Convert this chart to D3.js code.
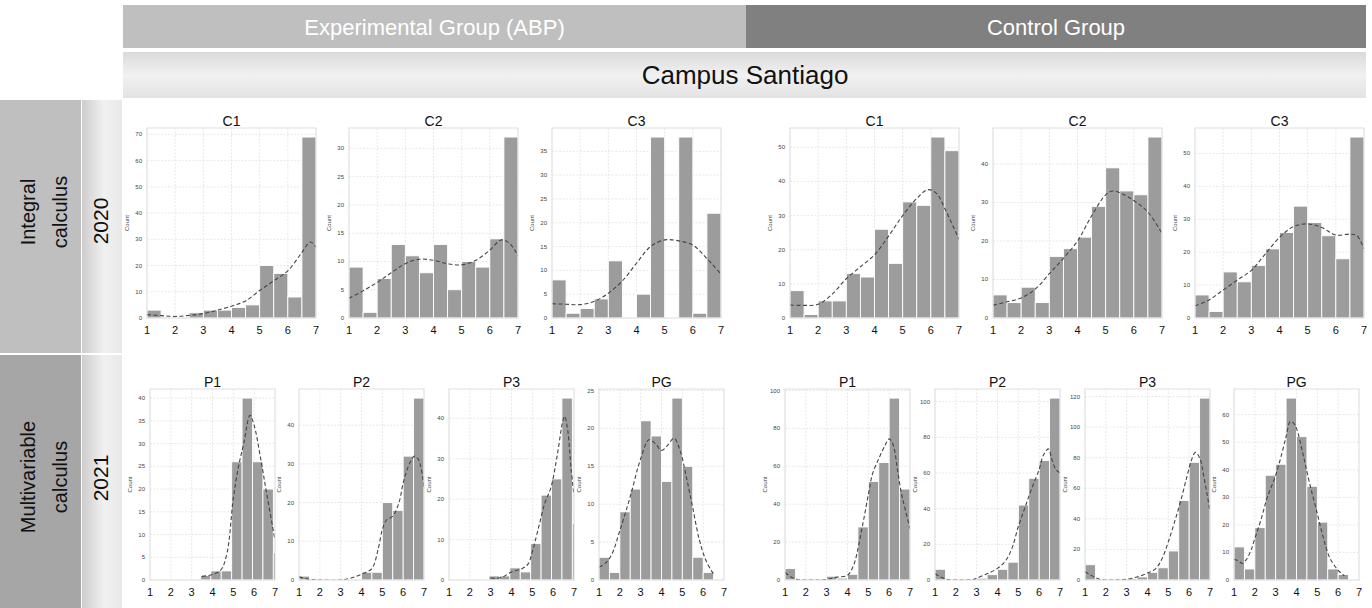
<!DOCTYPE html>
<html>
<head>
<meta charset="utf-8">
<script src="https://cdn.jsdelivr.net/npm/d3@7.9.0/dist/d3.min.js"></script>
<style>
  body { margin: 0; background: #fff; }
  svg { display: block; }
</style>
</head>
<body>
<svg id="chart" width="1372" height="608"></svg>
<script>
// ---- data ----
const groupLabels = ["Experimental Group (ABP)", "Control Group"];
const campusLabel = "Campus Santiago";
const rowLabels = [["Integral", "calculus"], ["Multivariable", "calculus"]];
const yearLabels = ["2020", "2021"];
const topTitles = ["C1", "C2", "C3", "C1", "C2", "C3"];
const bottomTitles = ["P1", "P2", "P3", "PG", "P1", "P2", "P3", "PG"];
const xTicks = [1, 2, 3, 4, 5, 6, 7];

// histogram counts, bins of 0.5 starting at binStart
const expC1 = [3, 0, 0, 2, 3, 3, 4, 5, 20, 17, 8, 69];
const expC2 = [9, 1, 7, 13, 11, 8, 13, 5, 10, 9, 14, 32];
const expC3 = [8, 1, 2, 4, 12, 0, 5, 38, 0, 38, 1, 22];
const ctrlC1 = [8, 1, 5, 5, 13, 12, 26, 16, 34, 33, 53, 49];
const ctrlC2 = [6, 4, 8, 4, 16, 18, 21, 29, 39, 33, 32, 47];
const ctrlC3 = [7, 2, 14, 11, 16, 21, 26, 34, 29, 25, 18, 55];

const expP1 = [0, 0, 0, 0, 0, 1, 2, 2, 26, 40, 26, 20, 6];
const expP2 = [1, 0, 0, 0, 0, 0, 2, 2, 20, 18, 32, 47];
const expP3 = [0, 0, 0, 0, 1, 1, 3, 2, 9, 21, 25, 45, 14];
const expPG = [3, 1, 9, 12, 21, 19, 13, 24, 15, 3, 1, 0];
const ctrlP1 = [6, 0, 0, 0, 2, 1, 3, 28, 52, 62, 96, 48];
const ctrlP2 = [6, 0, 0, 0, 1, 3, 6, 10, 42, 57, 67, 102];
const ctrlP3 = [10, 0, 0, 0, 1, 2, 5, 8, 19, 52, 77, 119];
const ctrlPG = [12, 4, 19, 38, 42, 66, 52, 34, 21, 4, 2, 0];

const topBinStart = [1, 1, 1, 1, 1, 1];
const bottomBinStart = [0.92, 1, 0.92, 1, 1, 1, 1, 1];
const topTickStep = [10, 5, 5, 10, 10, 10];
const bottomTickStep = [5, 10, 10, 5, 20, 20, 20, 10];

// kde curves [x, count]
const kdeExpC1 = [[1, 1.3], [1.5, 0.9], [2, 0.6], [2.5, 1], [3, 1.7], [3.5, 3], [4, 4.5], [4.5, 6.5], [5, 10.5], [5.5, 14.2], [6, 18], [6.5, 25], [6.8, 29], [7, 27]];
const kdeExpC2 = [[1, 3.5], [1.5, 4.8], [2, 6.3], [2.5, 8], [3, 9.6], [3.5, 10.4], [4, 10.2], [4.5, 9.6], [5, 9.4], [5.5, 10.2], [6, 12], [6.4, 13.8], [6.7, 13.2], [7, 11]];
const kdeExpC3 = [[1, 3], [1.5, 2.9], [2, 2.8], [2.5, 3.5], [3, 5.2], [3.5, 7.8], [4, 11.5], [4.5, 15], [5, 16.4], [5.5, 16.2], [6, 15.3], [6.5, 12.5], [7, 9.2]];
const kdeCtrlC1 = [[1, 3.8], [1.5, 3.7], [2, 4], [2.5, 7], [3, 11.5], [3.5, 15], [4, 18.5], [4.5, 24], [5, 30], [5.5, 35], [5.9, 37.6], [6.2, 36.5], [6.5, 32], [7, 23]];
const kdeCtrlC2 = [[1, 3.3], [1.5, 4.2], [2, 5.2], [2.5, 7.5], [3, 11.5], [3.5, 15.5], [4, 20], [4.5, 26.5], [5, 32], [5.25, 33], [5.6, 32.2], [6, 30.5], [6.5, 27.5], [7, 22]];
const kdeCtrlC3 = [[1, 3.7], [1.5, 5.5], [2, 8.5], [2.5, 11.5], [3, 14.5], [3.5, 19.5], [4, 24.5], [4.5, 27.8], [5, 28.6], [5.5, 27.5], [6, 25.2], [6.5, 25.5], [6.75, 25], [7, 21]];

const kdeExpP1 = [[3.5, 0.8], [4, 1.2], [4.4, 2.2], [4.7, 6], [5, 18], [5.25, 25], [5.5, 30], [5.8, 36.2], [6, 34], [6.3, 27], [6.6, 19], [7, 8.8]];
const kdeExpP2 = [[1, 0.8], [1.5, 0.2], [2, 0], [3, 0], [3.5, 0.5], [4, 1.5], [4.5, 3], [4.8, 8], [5, 13], [5.2, 15.5], [5.5, 16.5], [5.8, 20], [6, 25], [6.3, 30], [6.55, 32], [6.75, 31], [7, 24]];
const kdeExpP3 = [[3, 0.5], [3.3, 0.4], [3.6, 0.8], [4, 2], [4.5, 2.8], [4.8, 4], [5, 7], [5.3, 13], [5.6, 19], [5.9, 23], [6.2, 31], [6.45, 39], [6.55, 40.5], [6.7, 37], [6.85, 28], [7, 21]];
const kdeExpPG = [[1, 1.7], [1.3, 2.2], [1.6, 3.3], [2, 6.5], [2.5, 11], [3, 16], [3.4, 18.5], [3.7, 18], [4, 17.1], [4.3, 17.8], [4.6, 18.7], [4.9, 17], [5.2, 13.5], [5.5, 9.5], [5.8, 5.5], [6.1, 2.8], [6.4, 1.2], [6.5, 0.8]];
const kdeCtrlP1 = [[1, 4], [1.3, 1.5], [1.6, 0.3], [2, 0], [3, 0.3], [3.5, 1.5], [4, 2.5], [4.3, 8], [4.6, 22], [5, 45], [5.2, 56], [5.5, 64], [5.8, 71], [6, 74.5], [6.2, 71], [6.4, 58], [6.6, 45], [6.8, 36], [7, 27]];
const kdeCtrlP2 = [[1, 3.5], [1.3, 1.5], [1.6, 0.3], [2, 0], [2.8, 0.2], [3, 1], [3.5, 3.5], [4, 6.5], [4.4, 11], [4.7, 18], [5, 30], [5.3, 40], [5.6, 50], [6, 62], [6.2, 70], [6.45, 73.5], [6.6, 68], [6.8, 62], [7, 60]];
const kdeCtrlP3 = [[1, 5.5], [1.3, 3], [1.7, 0.5], [2, 0], [2.5, 0], [3, 0.5], [3.5, 2], [4, 4.5], [4.4, 7.5], [4.7, 14], [5, 25], [5.3, 38], [5.6, 52], [5.9, 68], [6.1, 78], [6.3, 83.5], [6.5, 80], [6.7, 68], [7, 45]];
const kdeCtrlPG = [[1, 7.5], [1.2, 7], [1.4, 6], [1.6, 7.5], [1.8, 10.5], [2, 15], [2.3, 22], [2.6, 30], [3, 38], [3.3, 46], [3.5, 52], [3.7, 57.5], [3.85, 57], [4, 55], [4.3, 46], [4.6, 36], [5, 24], [5.3, 15], [5.6, 8], [6, 3.5], [6.3, 1.5]];

const topCounts = [expC1, expC2, expC3, ctrlC1, ctrlC2, ctrlC3];
const topKde = [kdeExpC1, kdeExpC2, kdeExpC3, kdeCtrlC1, kdeCtrlC2, kdeCtrlC3];
const bottomCounts = [expP1, expP2, expP3, expPG, ctrlP1, ctrlP2, ctrlP3, ctrlPG];
const bottomKde = [kdeExpP1, kdeExpP2, kdeExpP3, kdeExpPG, kdeCtrlP1, kdeCtrlP2, kdeCtrlP3, kdeCtrlPG];

// ---- layout ----
const svg = d3.select("#chart");
const defs = svg.append("defs");

function gradient(id, x2, y2, stops) {
  const gr = defs.append("linearGradient").attr("id", id)
    .attr("x1", 0).attr("y1", 0).attr("x2", x2).attr("y2", y2);
  stops.forEach(([o, c]) => gr.append("stop").attr("offset", o).attr("stop-color", c));
}
gradient("campusGrad", 0, 1, [[0, "#dadada"], [0.5, "#f1f1f1"], [1, "#e3e3e3"]]);
gradient("yearGrad", 1, 0, [[0, "#cdcdcd"], [0.55, "#f1f1f1"], [1, "#e8e8e8"]]);

const headerFont = "'Liberation Sans', Arial, sans-serif";

// group header bands
const groupBands = [[123, 746, "#bfbfbf"], [746, 1366, "#808080"]];
groupBands.forEach(([x0, x1, c], i) => {
  svg.append("rect").attr("x", x0).attr("y", 5).attr("width", x1 - x0).attr("height", 43).attr("fill", c);
  svg.append("text").attr("x", (x0 + x1) / 2).attr("y", 35)
    .attr("text-anchor", "middle").attr("fill", "#fff")
    .style("font-family", headerFont).style("font-size", "22px")
    .text(groupLabels[i]);
});

svg.append("rect").attr("x", 123).attr("y", 52).attr("width", 1243).attr("height", 46).attr("fill", "url(#campusGrad)");
svg.append("text").attr("x", 745).attr("y", 84).attr("text-anchor", "middle").attr("fill", "#111")
  .style("font-family", headerFont).style("font-size", "26px").text(campusLabel);

// row header cells
const rowBands = [[100, 353, "#bfbfbf", 212, 221], [355, 608, "#a6a6a6", 477, 478]];
rowBands.forEach(([y0, y1, c, cy, ycy], i) => {
  svg.append("rect").attr("x", 0).attr("y", y0).attr("width", 81).attr("height", y1 - y0).attr("fill", c);
  svg.append("rect").attr("x", 82).attr("y", y0).attr("width", 40).attr("height", y1 - y0).attr("fill", "url(#yearGrad)");
  rowLabels[i].forEach((line, j) => {
    svg.append("text").attr("transform", `translate(${35 + j * 32},${cy}) rotate(-90)`)
      .attr("text-anchor", "middle").attr("fill", "#111")
      .style("font-family", headerFont).style("font-size", "20px").text(line);
  });
  svg.append("text").attr("transform", `translate(${108},${ycy}) rotate(-90)`)
    .attr("text-anchor", "middle").attr("fill", "#111")
    .style("font-family", headerFont).style("font-size", "21px").text(yearLabels[i]);
});

// ---- small histogram panels ----
const tickFont = "'Liberation Sans', Arial, sans-serif";
let clipId = 0;

function drawPanel(left, top, width, height, title, counts, binStart, kde, step) {
  const yMax = d3.max(counts) * 1.05;
  const x = d3.scaleLinear().domain([1, 7]).range([left, left + width]);
  const y = d3.scaleLinear().domain([0, yMax]).range([top + height, top]);
  const g = svg.append("g");

  const id = "clip" + (clipId++);
  defs.append("clipPath").attr("id", id).append("rect")
    .attr("x", left).attr("y", top).attr("width", width).attr("height", height);

  // grid
  const yTicks = d3.range(0, yMax, step);
  g.selectAll(".gy").data(yTicks).join("line")
    .attr("x1", left).attr("x2", left + width)
    .attr("y1", d => y(d)).attr("y2", d => y(d))
    .attr("stroke", "#dedede").attr("stroke-width", 0.7).attr("stroke-dasharray", "2,1.5");
  g.selectAll(".gx").data(xTicks).join("line")
    .attr("x1", d => x(d)).attr("x2", d => x(d))
    .attr("y1", top).attr("y2", top + height)
    .attr("stroke", "#dedede").attr("stroke-width", 0.7).attr("stroke-dasharray", "2,1.5");

  // bars
  const bins = counts.map((c, i) => ({ x0: binStart + i * 0.5, x1: binStart + (i + 1) * 0.5, c }));
  g.append("g").attr("clip-path", `url(#${id})`)
    .selectAll("rect").data(bins.filter(b => b.c > 0)).join("rect")
    .attr("x", d => x(d.x0)).attr("width", d => x(d.x1) - x(d.x0))
    .attr("y", d => y(d.c)).attr("height", d => y(0) - y(d.c))
    .attr("fill", "#9c9c9c").attr("stroke", "#fff").attr("stroke-width", 0.9);

  // kde
  const line = d3.line().x(d => x(d[0])).y(d => y(d[1])).curve(d3.curveCatmullRom);
  g.append("path").attr("d", line(kde)).attr("clip-path", `url(#${id})`)
    .attr("fill", "none").attr("stroke", "#444").attr("stroke-width", 1.1)
    .attr("stroke-dasharray", "4,2.5");

  // frame
  g.append("rect").attr("x", left).attr("y", top).attr("width", width).attr("height", height)
    .attr("fill", "none").attr("stroke", "#e0e0e0").attr("stroke-width", 1);

  // axes text
  g.selectAll(".xt").data(xTicks).join("text")
    .attr("x", d => x(d)).attr("y", top + height + 16)
    .attr("text-anchor", "middle").attr("fill", "#111")
    .style("font-family", tickFont).style("font-size", "11px").text(d => d);
  g.selectAll(".yt").data(yTicks).join("text")
    .attr("x", left - 5).attr("y", d => y(d) + 2)
    .attr("text-anchor", "end").attr("fill", "#444")
    .style("font-family", tickFont).style("font-size", "6px").text(d => d);
  g.append("text").attr("transform", `translate(${left - 18},${top + height / 2}) rotate(-90)`)
    .attr("text-anchor", "middle").attr("fill", "#444")
    .style("font-family", tickFont).style("font-size", "6px").text("Count");
  g.append("text").attr("x", left + width / 2).attr("y", top - 2.5)
    .attr("text-anchor", "middle").attr("fill", "#111")
    .style("font-family", tickFont).style("font-size", "14px").text(title);
}

const topLefts = [147, 349, 552, 790, 993, 1195];
topLefts.forEach((l, i) =>
  drawPanel(l, 128, 169, 190, topTitles[i], topCounts[i], topBinStart[i], topKde[i], topTickStep[i]));

const bottomLefts = [150, 299, 449, 599, 785, 935, 1085, 1234];
bottomLefts.forEach((l, i) =>
  drawPanel(l, 389, 125, 191, bottomTitles[i], bottomCounts[i], bottomBinStart[i], bottomKde[i], bottomTickStep[i]));
</script>
</body>
</html>
